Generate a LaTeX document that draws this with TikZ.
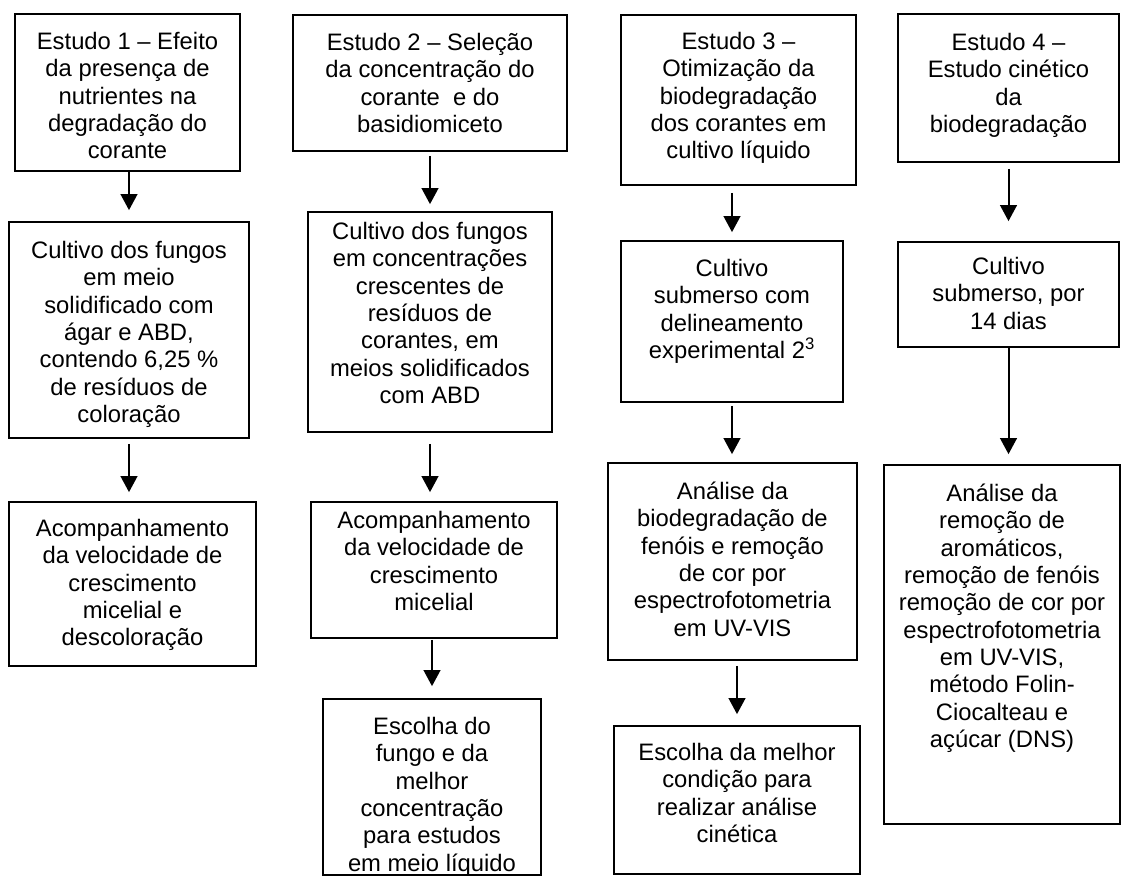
\documentclass[tikz,border=0pt]{standalone}
\usepackage{fontspec}
\setmainfont{Liberation Sans}
\usetikzlibrary{arrows.meta}
\tikzset{
  boxst/.style={draw=black, line width=1.3pt, rectangle, inner sep=0pt},
  txt/.style={align=center, inner sep=0pt, anchor=north, font=\fontsize{17.85pt}{20.5pt}\selectfont},
  arr/.style={line width=1.5pt, -{Triangle[length=12pt,width=12.5pt]}},
}
% name, x1, y1, x2, y2 (pixels, y downwards)
\newcommand{\mkbox}[5]{%
  \node[boxst, minimum width={(#4-#2)*0.75pt}, minimum height={(#5-#3)*0.75pt}] (#1) at ({(#2+#4)/2},{(#3+#5)/2}) {};}
% name of box, distance top->first baseline (px), text
\newcommand{\mktxt}[3]{%
  \node[txt] (#1t) at ([yshift={-(#2-19.2)*0.75pt}]#1.north) {\strut #3};}
\begin{document}
\begin{tikzpicture}[x=0.75pt,y=-0.75pt]
\useasboundingbox (0,0) rectangle (1123,876);
% column 1
\mkbox{a1}{15}{14}{240}{171}
\mkbox{a2}{9}{222}{249}{438}
\mkbox{a3}{9}{502}{256}{666}
\mktxt{a1}{36}{Estudo 1 – Efeito\\da presença de\\nutrientes na\\degradação do\\corante}
\mktxt{a2}{37}{Cultivo dos fungos\\em meio\\solidificado com\\ágar e ABD,\\contendo 6,25 \%\\de resíduos de\\coloração}
\mktxt{a3}{35}{Acompanhamento\\da velocidade de\\crescimento\\micelial e\\descoloração}
% column 2
\mkbox{b1}{293}{15}{567}{151}
\mkbox{b2}{308}{212}{552}{432}
\mkbox{b3}{311}{502}{557}{638}
\mkbox{b4}{323}{699}{541}{875}
\mktxt{b1}{36}{Estudo 2 – Seleção\\da concentração do\\corante\ \ e do\\basidiomiceto}
\mktxt{b2}{28}{Cultivo dos fungos\\em concentrações\\crescentes de\\resíduos de\\corantes, em\\meios solidificados\\com ABD}
\mktxt{b3}{27}{Acompanhamento\\da velocidade de\\crescimento\\micelial}
\mktxt{b4}{36}{Escolha do\\fungo e da\\melhor\\concentração\\para estudos\\em meio líquido}
% column 3
\mkbox{c1}{621}{15}{856}{185}
\mkbox{c2}{621}{241}{843}{402}
\mkbox{c3}{608}{463}{857}{660}
\mkbox{c4}{614}{726}{860}{874}
\mktxt{c1}{35}{Estudo 3 –\\Otimização da\\biodegradação\\dos corantes em\\cultivo líquido}
\mktxt{c2}{36}{Cultivo\\submerso com\\delineamento\\experimental 2\textsuperscript{3}}
\mktxt{c3}{37}{Análise da\\biodegradação de\\fenóis e remoção\\de cor por\\espectrofotometria\\em UV-VIS}
\mktxt{c4}{35}{Escolha da melhor\\condição para\\realizar análise\\cinética}
% column 4
\mkbox{d1}{898}{14}{1119}{162}
\mkbox{d2}{898}{242}{1119}{347}
\mkbox{d3}{884}{465}{1120}{824}
\mktxt{d1}{37}{Estudo 4 –\\Estudo cinético\\da\\biodegradação}
\mktxt{d2}{33}{Cultivo\\submerso, por\\14 dias}
\mktxt{d3}{37}{Análise da\\remoção de\\aromáticos,\\remoção de fenóis\\remoção de cor por\\espectrofotometria\\em UV-VIS,\\método Folin-\\Ciocalteau e\\açúcar (DNS)}
% arrows
\draw[arr, shorten >=8.25pt] (a1.south -| a2.north) -- (a2.north);
\draw[arr, shorten <=3.75pt, shorten >=6.75pt] (a2.south) -- (a2.south |- a3.north);
\draw[arr, shorten <=3pt, shorten >=5.25pt] (b1.south -| b2.north) -- (b2.north);
\draw[arr, shorten <=8.25pt, shorten >=6.75pt] (b2.south) -- (b2.south |- b3.north);
\draw[arr, shorten <=0.75pt, shorten >=9pt] (b3.south -| b4.north) -- (b4.north);
\draw[arr, shorten <=5.25pt, shorten >=6pt] (c1.south -| c2.north) -- (c2.north);
\draw[arr, shorten <=2.25pt, shorten >=6pt] (c2.south) -- (c2.south |- c3.north);
\draw[arr, shorten <=3.75pt, shorten >=8.25pt] (c3.south -| c4.north) -- (c4.north);
\draw[arr, shorten <=4.5pt, shorten >=15pt] (d1.south) -- (d1.south |- d2.north);
\draw[arr, shorten >=7.5pt] (d2.south) -- (d2.south |- d3.north);
\end{tikzpicture}
\end{document}
